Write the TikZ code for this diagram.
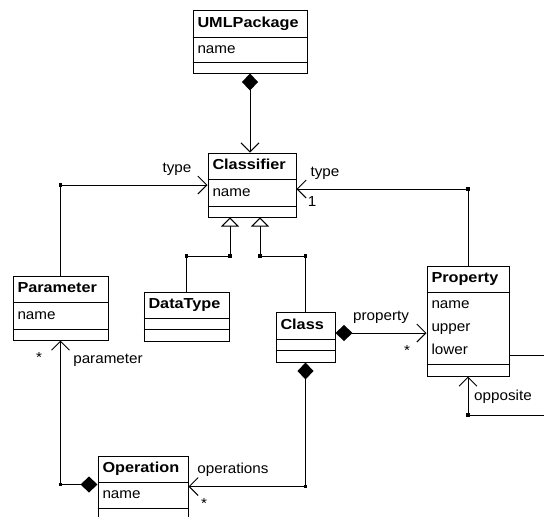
\documentclass[tikz,border=0pt]{standalone}
\usepackage{fontspec}
\setmainfont[FakeStretch=1.05]{Liberation Sans}
\newfontfamily\headfont[FakeStretch=1.12]{Liberation Sans}
\usetikzlibrary{arrows.meta}

\begin{document}
\begin{tikzpicture}[x=1pt, y=-1pt, line width=1pt,
    >={Straight Barb[length=9pt, width=18pt]},
    box/.style={draw, inner sep=0pt, fill=white},
    head/.style={anchor=west, inner sep=0pt, text height=10pt, text depth=3pt,
                 font=\headfont\bfseries\fontsize{14.5}{16}\selectfont},
    attr/.style={anchor=west, inner sep=0pt, text height=10pt, text depth=3pt,
                 font=\fontsize{14.5}{16}\selectfont},
    lbl/.style={inner sep=0pt, font=\fontsize{14.5}{16}\selectfont},
    compnav/.style={{Diamond[length=17pt, width=16pt]}-{Straight Barb[length=9pt, width=18pt]}},
    gen/.style={-{Triangle[open, length=9pt, width=18pt]}}]
    \useasboundingbox (0,0) rectangle (544,517);
    \clip (0,0) rectangle (544,517);

    % 1. class boxes
    \node[box, minimum width=114, minimum height=63] (pkg) at (250,41.5) {};
    \draw (pkg.west |- 0,37) -- (pkg.east |- 0,37);
    \draw (pkg.west |- 0,62) -- (pkg.east |- 0,62);
    \node[head] (pkgH) at (197,23.5) {UMLPackage};
    \node[attr] (pkgA) at (197,49.5) {name};

    \node[box, minimum width=88, minimum height=64] (classifier) at (252,185) {};
    \draw (classifier.west |- 0,179) -- (classifier.east |- 0,179);
    \draw (classifier.west |- 0,206) -- (classifier.east |- 0,206);
    \node[head] (classifierH) at (212,166) {Classifier};
    \node[attr] (classifierA) at (212,192.5) {name};

    \node[box, minimum width=95, minimum height=64] (param) at (60.5,308) {};
    \draw (param.west |- 0,302) -- (param.east |- 0,302);
    \draw (param.west |- 0,329) -- (param.east |- 0,329);
    \node[head] (paramH) at (17,289) {Parameter};
    \node[attr] (paramA) at (17,315.5) {name};

    \node[box, minimum width=85, minimum height=49] (dtype) at (186.5,316.5) {};
    \draw (dtype.west |- 0,318) -- (dtype.east |- 0,318);
    \draw (dtype.west |- 0,329) -- (dtype.east |- 0,329);
    \node[head] (dtypeH) at (148,305) {DataType};

    \node[box, minimum width=59, minimum height=50] (cls) at (305.5,337) {};
    \draw (cls.west |- 0,339) -- (cls.east |- 0,339);
    \draw (cls.west |- 0,350) -- (cls.east |- 0,350);
    \node[head] (clsH) at (280,325.5) {Class};

    \node[box, minimum width=82, minimum height=110] (prop) at (468,321) {};
    \draw (prop.west |- 0,292) -- (prop.east |- 0,292);
    \draw (prop.west |- 0,364) -- (prop.east |- 0,364);
    \node[head] (propH) at (431,279) {Property};
    \node[attr] (propA) at (431,305) {name};
    \node[attr] (propB) at (431,328) {upper};
    \node[attr] (propC) at (431,351) {lower};

    \node[box, minimum width=90, minimum height=63] (oper) at (143,487.5) {};
    \draw (oper.west |- 0,482) -- (oper.east |- 0,482);
    \draw (oper.west |- 0,508) -- (oper.east |- 0,508);
    \node[head] (operH) at (102,469) {Operation};
    \node[attr] (operA) at (102,495) {name};

    % 2. bend points
    \coordinate (gL) at (230,256);
    \coordinate (gR) at (260,256);
    \coordinate (oppC) at (560,415);

    % 3. associations
    \draw[compnav] (pkg.south) -- (pkg.south |- classifier.north);
    \draw[->] (param.north) |- (classifier.west);
    \draw[->] (prop.north) |- ([yshift=-4]classifier.east);
    \draw[compnav] ([yshift=4]cls.east) -- ([yshift=4]cls.east -| prop.west);
    \draw[compnav] (cls.south) |- ([yshift=1]oper.east);
    \draw[compnav] ([yshift=3]oper.west) -| (param.south);
    \draw[->] ([yshift=-34]prop.east) -| (oppC) -| (prop.south);

    % 4. generalizations
    \draw[gen] (dtype.north) |- (gL) -- (gL |- classifier.south);
    \draw[gen] (cls.north) |- (gR) -- (gR |- classifier.south);

    % 5. small square dots on the bends
    \foreach \p in {(param.north |- classifier.west), ([yshift=-4]classifier.east -| prop.north),
                    (dtype.north |- gL), (gL), (gR), (cls.north |- gR),
                    ([yshift=1]oper.east -| cls.south), ([yshift=3]oper.west -| param.south),
                    (prop.south |- oppC)}
      \fill \p ++(-1.6,-1.6) rectangle ++(3.2,3.2);

    % 6. role names and multiplicities
    \node[lbl] (typeL) at (177,169) {type};
    \node[lbl] (typeR) at (325,173) {type};
    \node[lbl] (oneR) at (312,202) {1};
    \node[lbl] (propL) at (381,317) {property};
    \node[lbl] (propM) at (407,351) {*};
    \node[lbl] (parL) at (108,360) {parameter};
    \node[lbl] (parM) at (39,358) {*};
    \node[lbl] (opsL) at (233,470) {operations};
    \node[lbl] (opsM) at (204,504) {*};
    \node[lbl] (oppL) at (503,397) {opposite};
\end{tikzpicture}
\end{document}
